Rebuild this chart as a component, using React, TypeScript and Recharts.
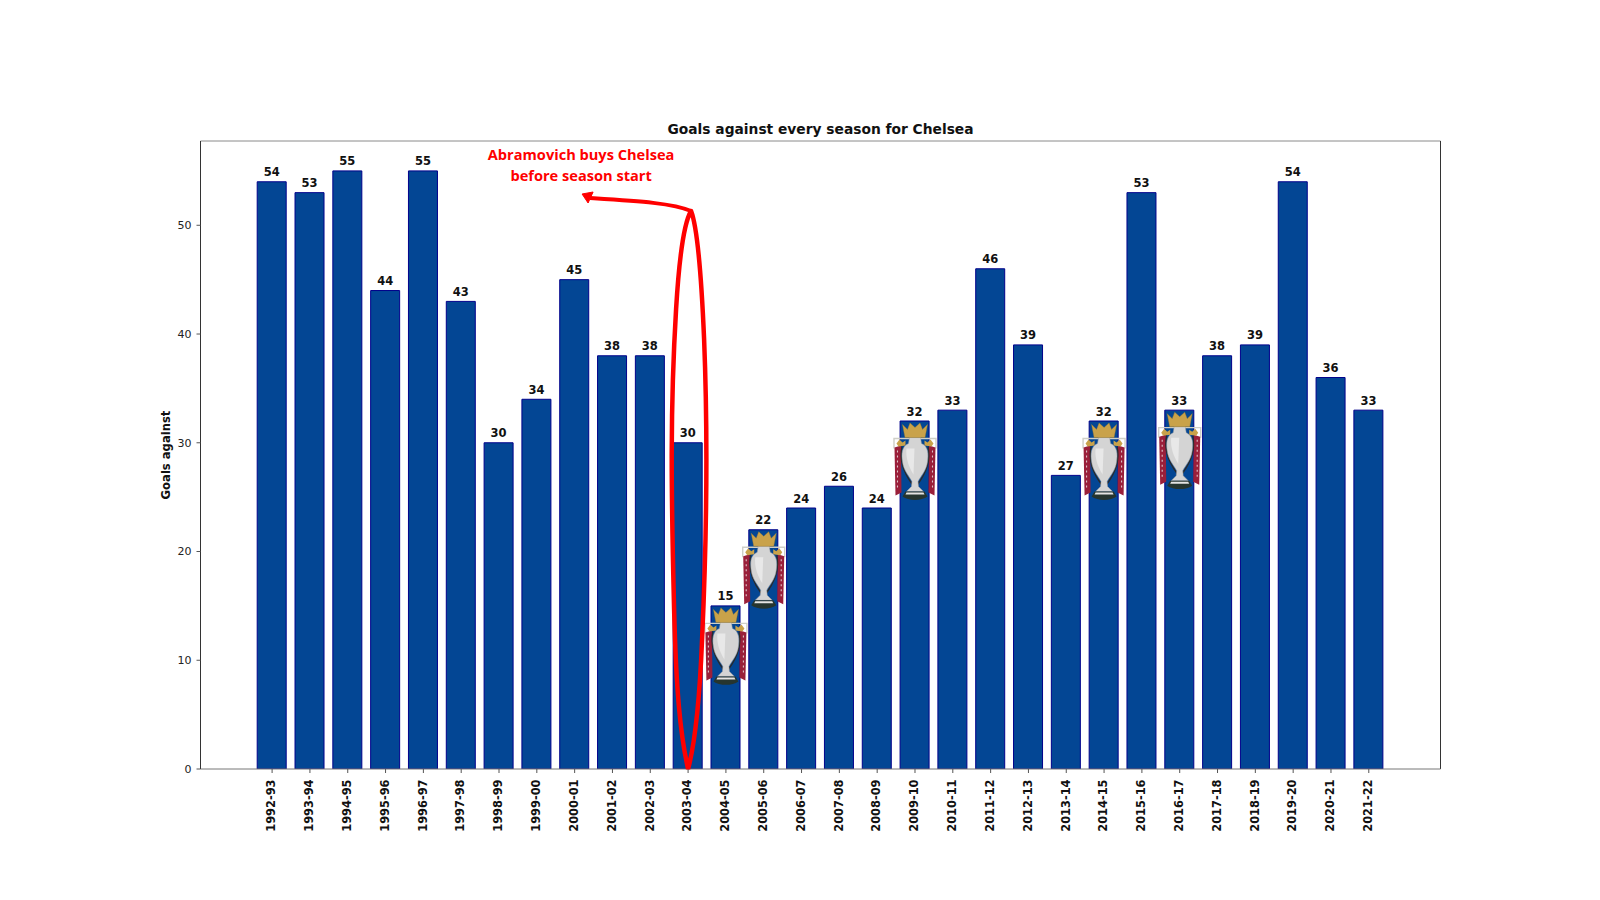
import { BarChart, Bar, XAxis, YAxis, LabelList, ReferenceDot } from 'recharts'

const SEASONS = [
  '1992-93', '1993-94', '1994-95', '1995-96', '1996-97', '1997-98', '1998-99', '1999-00',
  '2000-01', '2001-02', '2002-03', '2003-04', '2004-05', '2005-06', '2006-07', '2007-08',
  '2008-09', '2009-10', '2010-11', '2011-12', '2012-13', '2013-14', '2014-15', '2015-16',
  '2016-17', '2017-18', '2018-19', '2019-20', '2020-21', '2021-22',
]
const GOALS_AGAINST = [
  54, 53, 55, 44, 55, 43, 30, 34, 45, 38, 38, 30, 15, 22, 24, 26, 24, 32, 33, 46, 39, 27, 32, 53,
  33, 38, 39, 54, 36, 33,
]
const TITLE_SEASONS = ['2004-05', '2005-06', '2009-10', '2014-15', '2016-17']
const Y_TICKS = [0, 10, 20, 30, 40, 50]

const data = SEASONS.map((season, i) => ({ season, goals: GOALS_AGAINST[i] }))

const FONT = '"DejaVu Sans", sans-serif'

function SeasonTick({ x, y, payload }: any) {
  return (
    <text
      x={x - 0.8}
      y={y + 4.5}
      transform={`rotate(-90 ${x - 0.8} ${y + 4.5})`}
      dy="0.36em"
      textAnchor="end"
      fontFamily={FONT}
      fontSize={11.4}
      fontWeight="bold"
      fill="#111"
    >
      {payload.value}
    </text>
  )
}

// rough drawing of the league trophy, hung from the top of the bar
function Trophy({ cx, cy }: any) {
  return (
    <g transform={`translate(${cx - 21.5} ${cy + 1.5})`}>
      <path d="M0.5 26 V16 H42.5 V26" fill="none" stroke="#cfcfc8" strokeWidth={1.4} />
      <path d="M1 25 L7.5 23 L8 70 L2 73 Z" fill="#9a1f3a" />
      <path d="M42 25 L35.5 23 L35 70 L41 73 Z" fill="#9a1f3a" />
      <path d="M4 28 V68 M39 28 V68" stroke="#dcc4c8" strokeWidth={1.1} strokeDasharray="2 3" />
      <path d="M3 21 L6 17 L9 20 L12 18 L12 23 L5 24 Z" fill="#c9a24a" />
      <path d="M40 21 L37 17 L34 20 L31 18 L31 23 L38 24 Z" fill="#c9a24a" />
      <path d="M8.5 24 C5 40 13 54 19 62 M34.5 24 C38 40 30 54 24 62" fill="none" stroke="#2a2a2a" strokeWidth={1.3} />
      <path
        d="M16 15 H27 L28 21 C35 24 35 32 34 39 C33 48 27 54 24.5 59 L25 64 L30 69 H13 L18 64 L18.5 59 C16 54 10 48 9 39 C8 32 8 24 15 21 Z"
        fill="#d4d4d4"
        stroke="#a0a0a0"
        strokeWidth={0.5}
      />
      <path d="M13 26 C12 35 15 44 20 52 L21 26 Z" fill="#e8e8e8" />
      <path d="M12 69 H31 L34 74 C28 78.5 15 78.5 9 74 Z" fill="#26352f" />
      <path d="M13 70 H30 L31 72 H12 Z" fill="#e4e4e4" />
      <path
        d="M9 2 L14 7 L16.5 0.5 L21.5 5 L26.5 0.5 L29 7 L34 2 L31.5 15 H11.5 Z"
        fill="#c9a24a"
        stroke="#a57f2e"
        strokeWidth={0.4}
      />
    </g>
  )
}

function TakeoverNote({ cx, cy }: any) {
  return (
    <g transform={`translate(${cx} ${cy})`}>
      <path
        d="M0 0 C-8 -35 -12 -80 -14 -160 C-17 -280 -18 -360 -12 -460 C-9 -510 -5 -545 3 -558 C8 -545 13 -500 16 -430 C20 -330 19 -240 14 -130 C12 -80 8 -30 0 0"
        fill="none"
        stroke="#ff0000"
        strokeWidth={4.5}
        strokeLinejoin="round"
      />
      <path d="M3 -558 C-15 -566 -50 -568 -98 -571" fill="none" stroke="#ff0000" strokeWidth={3.8} />
      <path d="M-106 -575 L-95 -577 L-100 -566 Z" fill="#ff0000" stroke="#ff0000" />
      <text
        x={-107}
        textAnchor="middle"
        fontFamily='"Open Sans", sans-serif'
        fontSize={14.6}
        fontWeight="bold"
        fill="#ff0000"
      >
        <tspan x={-107} y={-609}>Abramovich buys Chelsea</tspan>
        <tspan x={-107} y={-588}>before season start</tspan>
      </text>
    </g>
  )
}

export default function App() {
  return (
    <div style={{ position: 'absolute', left: 0, top: 0, width: 1600, height: 900, background: '#fff' }}>
      <BarChart
        width={1600}
        height={900}
        data={data}
        margin={{ top: 141, right: 159.5, bottom: 31, left: 140.5 }}
        barSize={29}
      >
        <text x={820.5} y={134} textAnchor="middle" fontFamily={FONT} fontSize={13.8} fontWeight="bold" fill="#111">
          Goals against every season for Chelsea
        </text>
        <XAxis
          dataKey="season"
          height={100}
          interval={0}
          padding={{ left: 52.7, right: 52.8 }}
          tick={<SeasonTick />}
          tickSize={4}
          axisLine={{ stroke: '#777' }}
          tickLine={{ stroke: '#555' }}
        />
        <YAxis
          width={60}
          domain={[0, 57.75]}
          ticks={Y_TICKS}
          allowDataOverflow
          tickSize={4}
          tickMargin={5}
          tick={{ fontFamily: FONT, fontSize: 11, fill: '#222' }}
          axisLine={{ stroke: '#333' }}
          tickLine={{ stroke: '#555' }}
          label={{
            value: 'Goals against',
            angle: -90,
            position: 'left',
            offset: -25,
            style: { fontFamily: FONT, fontSize: 11.6, fontWeight: 'bold', fill: '#111', textAnchor: 'middle' },
          }}
        />
        <Bar dataKey="goals" fill="#034694" stroke="#00008b" strokeWidth={1} isAnimationActive={false}>
          <LabelList
            dataKey="goals"
            position="top"
            offset={5.5}
            style={{ fontFamily: FONT, fontSize: 11.5, fontWeight: 'bold', fill: '#111' }}
          />
        </Bar>
        {/* top and right spines */}
        <path d="M200.5 141 H1440.5" stroke="#8a8a8a" fill="none" />
        <path d="M1440.5 141 V769" stroke="#333" fill="none" />
        {TITLE_SEASONS.map((season) => (
          <ReferenceDot
            key={season}
            x={season}
            y={GOALS_AGAINST[SEASONS.indexOf(season)]}
            ifOverflow="visible"
            shape={<Trophy />}
          />
        ))}
        <ReferenceDot x="2003-04" y={0} ifOverflow="visible" shape={<TakeoverNote />} />
      </BarChart>
    </div>
  )
}
